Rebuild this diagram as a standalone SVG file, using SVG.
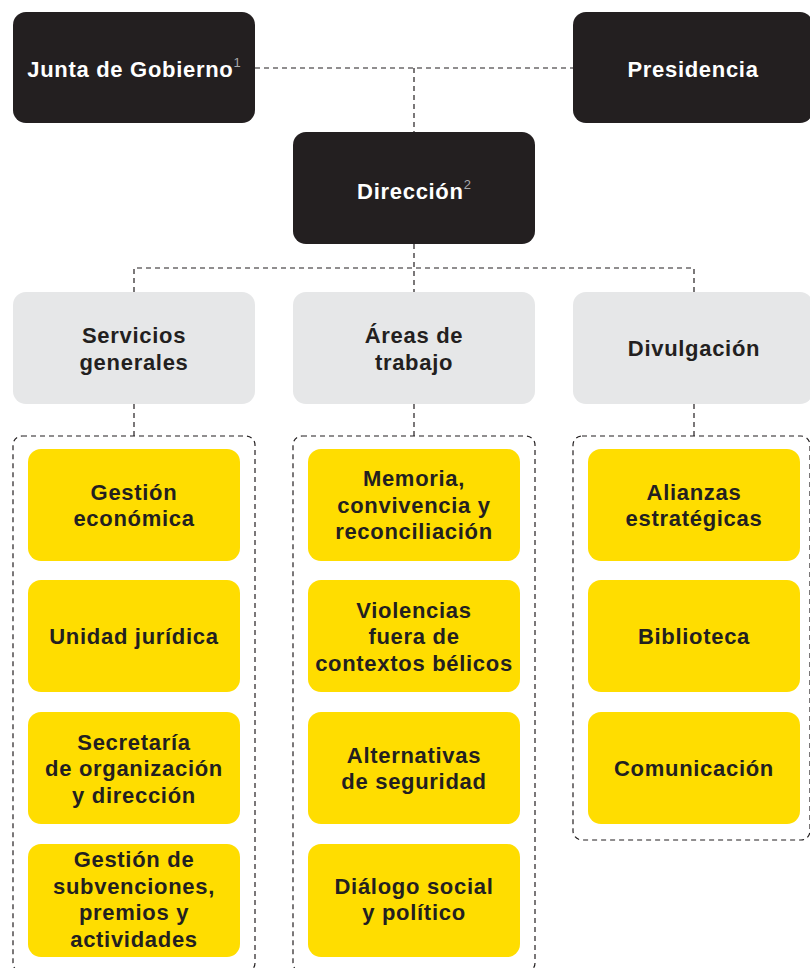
<svg xmlns="http://www.w3.org/2000/svg" width="810" height="968" viewBox="0 0 810 968">
<style>
text{font-family:"Liberation Sans",Arial,sans-serif;font-weight:bold;text-anchor:middle;letter-spacing:0.7px}
.dark rect{fill:#231f20}
.dark text{fill:#ffffff;font-size:22px}
.gray rect{fill:#e6e7e8}
.gray text{fill:#231f20;font-size:22px}
.yel rect{fill:#ffdd00}
.yel text{fill:#231f20;font-size:22px}
.sup{fill:#a7a9ac;font-weight:normal;font-size:13px;letter-spacing:0}
.dash{fill:none;stroke:#231f20;stroke-width:1.2;stroke-dasharray:5 4}
</style>
<g id="connectors">
<path class="dash" d="M255 68H573M414 68V132"/>
<path class="dash" d="M414 244V292M134 292V268H694V292"/>
<path class="dash" d="M134 404V436M414 404V436M694 404V436"/>
<rect class="dash" x="13" y="436" width="242" height="536" rx="9"/>
<rect class="dash" x="293" y="436" width="242" height="536" rx="9"/>
<rect class="dash" x="573" y="436" width="237" height="404" rx="9"/>
</g>
<g id="junta" class="dark"><rect x="13" y="12" width="242" height="111" rx="13"/><text x="134" y="77">Junta de Gobierno<tspan class="sup" dy="-10">1</tspan></text></g>
<g id="presidencia" class="dark"><rect x="573" y="12" width="240" height="111" rx="13"/><text x="693" y="77">Presidencia</text></g>
<g id="direccion" class="dark"><rect x="293" y="132" width="242" height="112" rx="13"/><text x="414" y="199">Dirección<tspan class="sup" dy="-10">2</tspan></text></g>
<g id="servicios" class="gray"><rect x="13" y="292" width="242" height="112" rx="13"/><text x="134" y="343">Servicios</text><text x="134" y="370">generales</text></g>
<g id="areas" class="gray"><rect x="293" y="292" width="242" height="112" rx="13"/><text x="414" y="343">Áreas de</text><text x="414" y="370">trabajo</text></g>
<g id="divulgacion" class="gray"><rect x="573" y="292" width="240" height="112" rx="13"/><text x="694" y="356">Divulgación</text></g>
<g id="gestion-economica" class="yel"><rect x="28" y="449" width="212" height="112" rx="13"/><text x="134" y="500">Gestión</text><text x="134" y="526">económica</text></g>
<g id="unidad-juridica" class="yel"><rect x="28" y="580" width="212" height="112" rx="13"/><text x="134" y="644">Unidad jurídica</text></g>
<g id="secretaria" class="yel"><rect x="28" y="712" width="212" height="112" rx="13"/><text x="134" y="750">Secretaría</text><text x="134" y="776">de organización</text><text x="134" y="803">y dirección</text></g>
<g id="subvenciones" class="yel"><rect x="28" y="844" width="212" height="113" rx="13"/><text x="134" y="867">Gestión de</text><text x="134" y="894">subvenciones,</text><text x="134" y="920">premios y</text><text x="134" y="947">actividades</text></g>
<g id="memoria" class="yel"><rect x="308" y="449" width="212" height="112" rx="13"/><text x="414" y="486">Memoria,</text><text x="414" y="513">convivencia y</text><text x="414" y="539">reconciliación</text></g>
<g id="violencias" class="yel"><rect x="308" y="580" width="212" height="112" rx="13"/><text x="414" y="618">Violencias</text><text x="414" y="644">fuera de</text><text x="414" y="671">contextos bélicos</text></g>
<g id="alternativas" class="yel"><rect x="308" y="712" width="212" height="112" rx="13"/><text x="414" y="763">Alternativas</text><text x="414" y="789">de seguridad</text></g>
<g id="dialogo" class="yel"><rect x="308" y="844" width="212" height="113" rx="13"/><text x="414" y="894">Diálogo social</text><text x="414" y="920">y político</text></g>
<g id="alianzas" class="yel"><rect x="588" y="449" width="212" height="112" rx="13"/><text x="694" y="500">Alianzas</text><text x="694" y="526">estratégicas</text></g>
<g id="biblioteca" class="yel"><rect x="588" y="580" width="212" height="112" rx="13"/><text x="694" y="644">Biblioteca</text></g>
<g id="comunicacion" class="yel"><rect x="588" y="712" width="212" height="112" rx="13"/><text x="694" y="776">Comunicación</text></g>
</svg>
